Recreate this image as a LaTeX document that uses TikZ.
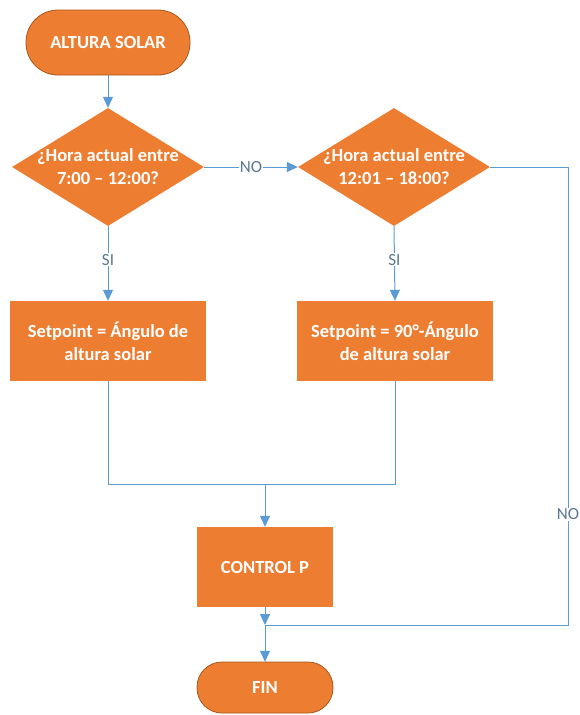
\documentclass[tikz,border=0pt]{standalone}
\usepackage{fontspec}
\setmainfont{Carlito}
\usetikzlibrary{shapes.geometric,arrows.meta}
\definecolor{org}{HTML}{ED7D31}
\definecolor{orgdark}{HTML}{A8581F}
\definecolor{ln}{HTML}{5B9BD5}
\definecolor{lbl}{HTML}{5A7896}
\begin{document}
\begin{tikzpicture}[x=1pt,y=-1pt,
  bigfont/.style={font=\fontsize{18.5}{23}\selectfont\bfseries},
  dia/.style={diamond, fill=org, minimum width=192pt, minimum height=118pt, inner sep=0pt},
  dtext/.style={text=white, bigfont, align=center},
  procbox/.style={rectangle, fill=org, text=white, bigfont, align=center, minimum width=196pt, minimum height=80pt, inner sep=0pt},
  termtext/.style={text=white, bigfont, inner sep=0pt},
  conn/.style={draw=ln, line width=1pt},
  arr/.style={conn, -{Triangle[width=10pt,length=11pt]}},
  lab/.style={text=lbl, font=\fontsize{17}{19}\selectfont, fill=white, inner sep=1pt}
]
\useasboundingbox (0,0) rectangle (579,715);
% start
\path[draw=orgdark, line width=0.8pt, fill=org, rounded corners=32pt] (26,10) rectangle (190,75);
\node[termtext, minimum width=164pt, minimum height=65pt] (start) at (108,42.5) {ALTURA SOLAR};
% decisions
\node[dia] (d1) at (108,167) {};
\node[dtext] at (d1) {¿Hora actual entre\\7:00 – 12:00?};
\node[dia] (d2) at (394,167) {};
\node[dtext] at (d2) {¿Hora actual entre\\12:01 – 18:00?};
% process boxes
\node[procbox] (b1) at (108,341) {Setpoint = Ángulo de\\altura solar};
\node[procbox] (b2) at (395,341) {Setpoint = 90°-Ángulo\\de altura solar};
\node[procbox, minimum width=136pt] (ctrl) at (265,567) {CONTROL P};
% end
\path[draw=orgdark, line width=0.8pt, fill=org, rounded corners=25pt] (197,662) rectangle (333,713);
\node[termtext, minimum width=136pt, minimum height=51pt] (fin) at (265,687.5) {FIN};
% coordinates
\coordinate (j) at (265,484);
\coordinate (m) at (265,625);
\coordinate (r) at (568,167);
% connectors
\draw[arr] (start.south) -- (d1.north);
\draw[arr] (d1.east) -- node[lab] {NO} (d2.west);
\draw[arr] (d1.south) -- node[lab, pos=0.45] {SI} (b1.north);
\draw[arr] (d2.south) -- node[lab, pos=0.45] {SI} (b2.north);
\draw[conn] (b1.south) |- (j);
\draw[conn] (b2.south) |- (j);
\draw[arr] (j) -- (ctrl.north);
\draw[arr] (ctrl.south) -- (m);
\draw[arr] (m) -- (fin.north);
\draw[conn] (d2.east) -- (r) |- node[lab, pos=0.379] {NO} (m);
\end{tikzpicture}
\end{document}
